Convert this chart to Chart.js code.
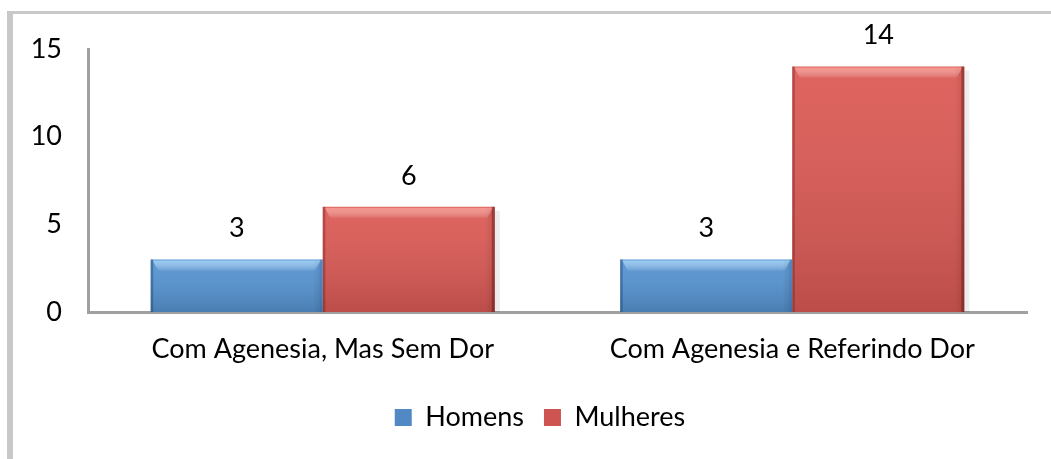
<!DOCTYPE html>
<html>
<head>
<meta charset="utf-8">
<script src="https://cdn.jsdelivr.net/npm/chart.js@4"></script>
<style>
html,body{margin:0;padding:0;background:#fff;overflow:hidden;width:1051px;height:459px;}
#frame{position:absolute;left:7px;top:11px;width:1200px;height:600px;border-left:6px solid #c8c8c8;border-top:3px solid #c8c8c8;box-sizing:border-box;}
#wrap{position:absolute;left:0;top:0;width:1051px;height:459px;}
</style>
</head>
<body>
<div id="frame"></div>
<div id="wrap"><canvas id="c" width="1051" height="459"></canvas></div>
<script>
// ---- data ----
const categories = ['Com Agenesia, Mas Sem Dor', 'Com Agenesia e Referindo Dor'];
const seriesNames = ['Homens', 'Mulheres'];
const homensValues = [3, 3];
const mulheresValues = [6, 14];
const yTickValues = [0, 5, 10, 15];

// ---- style ----
const FONT = 'Lato';
const FS = 27;
const baseColors = ['rgb(86,148,210)', 'rgb(220,90,85)'];
const legendColors = ['rgb(82,136,196)', 'rgb(205,84,80)'];
const highlightColors = ['rgba(170,220,255,0.75)', 'rgba(255,165,155,0.75)'];
const rightEdge = ['rgba(20,50,90,0.18)', 'rgba(80,10,10,0.45)'];
const leftEdge = ['rgba(20,50,90,0.35)', 'rgba(90,10,10,0.30)'];

const bevelPlugin = {
  id: 'bevel',
  afterLayout(chart) {
    // centre the legend row like the reference
    if (chart.legend) { chart.legend.left = 53; }
  },
  beforeDatasetsDraw(chart) {
    const ctx = chart.ctx;
    ctx.save();
    chart.data.datasets.forEach((ds, di) => {
      chart.getDatasetMeta(di).data.forEach(el => {
        const p = el.getProps(['x', 'y', 'width', 'base'], true);
        const r = p.x + p.width / 2;
        ctx.fillStyle = 'rgba(0,0,0,0.07)';
        ctx.fillRect(r, p.y + 4, 5, p.base - p.y - 4);
      });
    });
    ctx.restore();
  },
  afterDatasetsDraw(chart) {
    const ctx = chart.ctx;
    ctx.save();
    chart.data.datasets.forEach((ds, di) => {
      chart.getDatasetMeta(di).data.forEach(el => {
        const p = el.getProps(['x', 'y', 'width', 'base'], true);
        const l = p.x - p.width / 2, r = p.x + p.width / 2, t = p.y, b = p.base;
        const h = b - t;
        const g = ctx.createLinearGradient(0, t, 0, b);
        g.addColorStop(0, 'rgba(255,255,255,0.06)');
        g.addColorStop(1, 'rgba(0,0,0,0.15)');
        ctx.fillStyle = g;
        ctx.fillRect(l, t, p.width, h);
        const hg = ctx.createLinearGradient(0, t + 1, 0, t + 12);
        hg.addColorStop(0, highlightColors[di]);
        hg.addColorStop(1, 'rgba(255,255,255,0)');
        ctx.fillStyle = hg;
        ctx.beginPath();
        ctx.moveTo(l + 2, t + 1);
        ctx.lineTo(r - 2, t + 1);
        ctx.lineTo(r - 8, t + 12);
        ctx.lineTo(l + 8, t + 12);
        ctx.closePath();
        ctx.fill();
        ctx.fillStyle = leftEdge[di];
        ctx.fillRect(l, t, 2.5, h);
        ctx.fillStyle = rightEdge[di];
        ctx.fillRect(r - 3, t, 3, h);
        const sg = ctx.createLinearGradient(r - 10, 0, r - 3, 0);
        sg.addColorStop(0, 'rgba(0,0,0,0)');
        sg.addColorStop(1, 'rgba(0,0,0,0.08)');
        ctx.fillStyle = sg;
        ctx.fillRect(r - 10, t + 2, 7, h - 2);
      });
    });
    ctx.restore();
  },
  afterDraw(chart) {
    const ctx = chart.ctx;
    ctx.save();
    ctx.font = FS + 'px ' + FONT;
    ctx.fillStyle = '#000';
    ctx.textAlign = 'center';
    ctx.textBaseline = 'middle';
    chart.data.datasets.forEach((ds, di) => {
      chart.getDatasetMeta(di).data.forEach((el, i) => {
        const p = el.getProps(['x', 'y'], true);
        ctx.fillText(String(ds.data[i]), p.x, p.y - 31);
      });
    });
    ctx.restore();
  }
};

const chart = new Chart(document.getElementById('c'), {
  type: 'bar',
  data: {
    labels: categories,
    datasets: [
      { label: seriesNames[0], data: homensValues, backgroundColor: baseColors[0], borderWidth: 0,
        categoryPercentage: 0.733, barPercentage: 1.0 },
      { label: seriesNames[1], data: mulheresValues, backgroundColor: baseColors[1], borderWidth: 0,
        categoryPercentage: 0.733, barPercentage: 1.0 }
    ]
  },
  options: {
    responsive: false,
    animation: false,
    events: [],
    layout: { padding: { top: 49, right: 24, left: 0, bottom: 18 } },
    plugins: {
      tooltip: { enabled: false },
      legend: {
        position: 'bottom',
        labels: {
          font: { family: FONT, size: FS },
          color: '#000',
          boxWidth: 17,
          boxHeight: 17,
          padding: 20,
          generateLabels(ch) {
            const items = Chart.defaults.plugins.legend.labels.generateLabels(ch);
            items.forEach((it, i) => { it.fillStyle = legendColors[i]; it.strokeStyle = legendColors[i]; it.lineWidth = 0; });
            return items;
          }
        }
      }
    },
    scales: {
      x: {
        grid: { display: false },
        border: { display: true, color: '#a0a0a0', width: 3 },
        ticks: { font: { family: FONT, size: FS }, color: '#000', padding: 13, maxRotation: 0, autoSkip: false },
        afterFit(s) { s.height = 72; }
      },
      y: {
        min: 0,
        max: 15,
        grid: { display: false },
        border: { display: true, color: '#a0a0a0', width: 3 },
        ticks: { font: { family: FONT, size: FS }, color: '#000', padding: 18 },
        afterBuildTicks(s) { s.ticks = yTickValues.map(v => ({ value: v })); },
        afterFit(s) { s.width = 88; }
      }
    }
  },
  plugins: [bevelPlugin]
});
</script>
</body>
</html>
